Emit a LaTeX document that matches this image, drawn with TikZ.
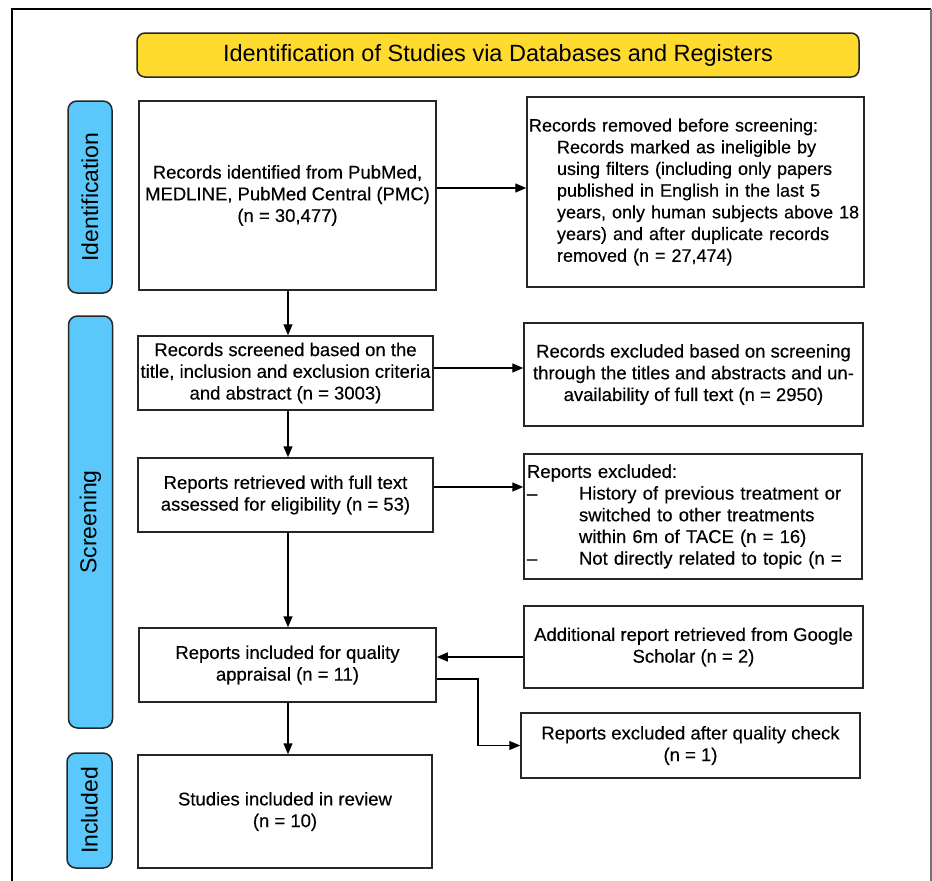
\documentclass[tikz,border=0pt]{standalone}
\usepackage{fontspec}
\setmainfont{Liberation Sans}[FakeBold=0.35]
\newfontfamily\plainsans{Liberation Sans}
\usetikzlibrary{arrows.meta}
\definecolor{bannerY}{RGB}{255,218,47}
\definecolor{labBlue}{RGB}{90,200,250}
\begin{document}
\begin{tikzpicture}[x=1pt,y=-1pt,
  box/.style={draw=black!85, line width=1.5pt, inner sep=1pt, align=center,
    font=\fontsize{18.5}{21.7}\selectfont},
  lab/.style={draw=black!85, line width=1.5pt, fill=labBlue, rounded corners=9pt,
    rotate=90, inner sep=0pt, font=\plainsans\fontsize{23}{27}\selectfont},
  arr/.style={line width=1.4pt, -{Triangle[length=11pt,width=9pt]}}]
\useasboundingbox (0,0) rectangle (932,881);
% outer frame
\draw[line width=1.5pt] (12,881) -- (12,9) -- (931,9);
\draw[line width=1.5pt, black!55] (931,9) -- (931,881);
% title banner
\node[draw=black!85, line width=1.5pt, fill=bannerY, rounded corners=8pt,
  minimum width=722pt, minimum height=44pt, inner sep=0pt,
  font=\plainsans\fontsize{23.5}{28}\selectfont] (title) at (498,55)
  {Identification of Studies via Databases and Registers};
% side labels
\node[lab, minimum width=192pt, minimum height=44pt] (idlab) at (90,197) {Identification};
\node[lab, minimum width=412pt, minimum height=44pt] (scrlab) at (90.5,522) {Screening};
\node[lab, minimum width=115pt, minimum height=45pt] (inclab) at (89.5,810.5) {Included};
% boxes
\node[box, minimum width=297pt, minimum height=189pt] (b1) at (287.5,195.5)
  {Records identified from PubMed,\\MEDLINE, PubMed Central (PMC)\\(n = 30,477)};
\node[box, minimum width=337pt, minimum height=190pt, inner xsep=2pt, text width=333pt, align=left,
  font=\fontsize{18}{21.7}\selectfont] (b2) at (695.5,192)
  {\mbox{Records removed before screening:}\\
   \mbox{\hspace*{28pt}Records marked as ineligible by}\\
   \mbox{\hspace*{28pt}using filters (including only papers}\\
   \mbox{\hspace*{28pt}published in English in the last 5}\\
   \mbox{\hspace*{28pt}years, only human subjects above 18}\\
   \mbox{\hspace*{28pt}years) and after duplicate records}\\
   \mbox{\hspace*{28pt}removed (n = 27,474)}};
\node[box, minimum width=295pt, minimum height=74pt] (b3) at (285.5,373)
  {Records screened based on the\\title, inclusion and exclusion criteria\\and abstract (n = 3003)};
\node[box, minimum width=339pt, minimum height=103pt] (b4) at (693.5,374.5)
  {Records excluded based on screening\\through the titles and abstracts and un-\\availability of full text (n = 2950)};
\node[box, minimum width=295pt, minimum height=74pt] (b5) at (285.5,495)
  {Reports retrieved with full text\\assessed for eligibility (n = 53)};
\node[box, minimum width=338pt, minimum height=125pt, inner xsep=3pt, text width=332pt, align=left] (b6) at (693,516.5)
  {\mbox{Reports excluded:}\\
   \mbox{\makebox[52pt][l]{--}History of previous treatment or}\\
   \mbox{\hspace*{52pt}switched to other treatments}\\
   \mbox{\hspace*{52pt}within 6m of TACE (n = 16)}\\
   \mbox{\makebox[52pt][l]{--}Not directly related to topic (n =}};
\node[box, minimum width=297pt, minimum height=74pt] (b7) at (287.5,665)
  {Reports included for quality\\appraisal (n = 11)};
\node[box, minimum width=339pt, minimum height=82pt] (b8) at (693.5,647)
  {Additional report retrieved from Google\\Scholar (n = 2)};
\node[box, minimum width=339pt, minimum height=65pt] (b9) at (690.5,745.5)
  {Reports excluded after quality check\\(n = 1)};
\node[box, minimum width=294pt, minimum height=113pt] (b10) at (285,811.5)
  {Studies included in review\\(n = 10)};
% helper coordinates
\coordinate (col) at (288,0);
\coordinate (y1) at (0,188);
\coordinate (y3) at (0,368);
\coordinate (y5) at (0,487);
\coordinate (y8) at (0,657);
\coordinate (y7) at (0,679);
\coordinate (elb) at (478,679);
% connectors
\draw[arr] (col |- b1.south) -- (col |- b3.north);
\draw[arr] (col |- b3.south) -- (col |- b5.north);
\draw[arr] (col |- b5.south) -- (col |- b7.north);
\draw[arr] (col |- b7.south) -- (col |- b10.north);
\draw[arr] (b1.east |- y1) -- (b2.west |- y1);
\draw[arr] (b3.east |- y3) -- (b4.west |- y3);
\draw[arr] (b5.east |- y5) -- (b6.west |- y5);
\draw[arr] (b8.west |- y8) -- (b7.east |- y8);
\draw[arr] (b7.east |- y7) -- (elb) |- (b9.west);
\end{tikzpicture}
\end{document}
